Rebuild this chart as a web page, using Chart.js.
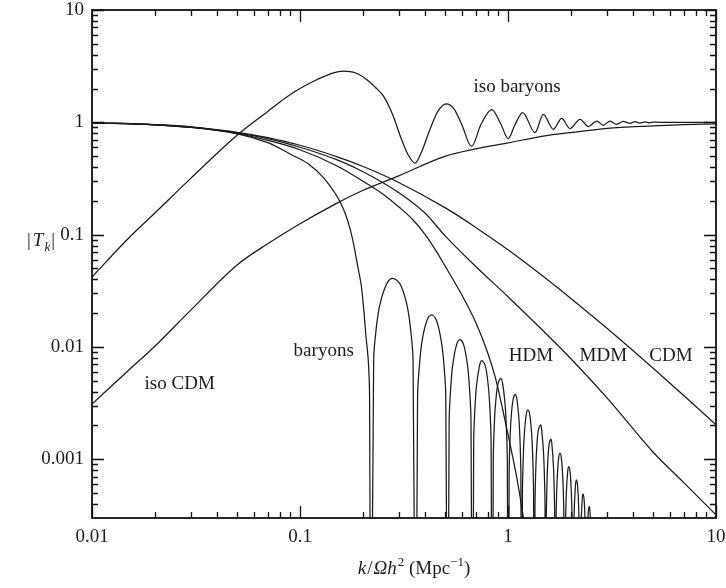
<!DOCTYPE html>
<html><head><meta charset="utf-8">
<script src="https://cdn.jsdelivr.net/npm/chart.js@4.4.1/dist/chart.umd.min.js"></script>
<style>html,body{margin:0;padding:0;background:#fff;}canvas{display:block;}</style>
</head><body>
<canvas id="c" width="726" height="588"></canvas>
<script>
// ---- data (k/Ωh² in Mpc^-1, |T_k|) ----
const cdmK = [0.01,0.02,0.03,0.05,0.07,0.1,0.15,0.2,0.3,0.5,0.7,1,1.5,2,3,5,7,10];
const cdmT = [0.99,0.95,0.905,0.815,0.73,0.625,0.495,0.406,0.29,0.173,0.116,0.0732,0.0415,0.0272,0.0146,0.00644,0.0037,0.00203];

const mdmK = [0.01,0.02,0.03,0.05,0.07,0.1,0.15,0.2,0.3,0.4,0.5,0.7,1,1.5,2,3,5,7,10];
const mdmT = [0.99,0.95,0.9,0.805,0.715,0.6,0.465,0.365,0.235,0.155,0.097,0.052,0.028,0.0135,0.0079,0.0035,0.00115,0.00062,0.00032];

const hdmK = [0.01,0.02,0.03,0.05,0.07,0.1,0.15,0.2,0.25,0.3,0.35,0.4,0.45,0.5,0.6,0.7,0.8,0.87,0.95,1.02,1.1,1.18,1.25];
const hdmT = [0.99,0.95,0.9,0.795,0.69,0.57,0.41,0.3,0.23,0.175,0.135,0.1,0.072,0.052,0.029,0.0165,0.0088,0.0053,0.0026,0.0014,0.0007,0.00032,0.00015];

const baryonK = [0.01,0.02,0.03,0.05,0.07,0.09,0.109,0.13,0.156,0.174,0.19,0.198,0.208,0.213,0.216,0.2195,
  0.226,0.2329,0.2423,0.2609,0.279,0.3027,0.3262,0.3392,0.3495,0.3599,
  0.3675,0.3757,0.3863,0.4075,0.4297,0.4532,0.4775,0.4916,0.5022,0.513,
  0.5212,0.5302,0.5418,0.5647,0.5877,0.6132,0.639,0.6531,0.6639,0.6751,
  0.6839,0.693,0.7051,0.7288,0.7475,0.7784,0.8044,0.8187,0.8294,0.8402,
  0.8494,0.8584,0.8708,0.8941,0.9224,0.943,0.9683,0.9822,0.9927,1.003,
  1.0123,1.0212,1.0335,1.0568,1.085,1.1048,1.1298,1.1434,1.1534,1.164,
  1.1735,1.1836,1.1967,1.2221,1.248,1.2741,1.3011,1.3155,1.3268,1.338,
  1.348,1.3583,1.3721,1.3983,1.436,1.4524,1.4801,1.4952,1.5066,1.518,
  1.5279,1.5375,1.5506,1.5754,1.609,1.6267,1.6527,1.6669,1.6773,1.688,
  1.6986,1.7092,1.7235,1.7507,1.778,1.8064,1.8349,1.8501,1.8617,1.874,
  1.8837,1.8941,1.9081,1.9347,1.955,1.9884,2.0161,2.031,2.0423,2.053,
  2.063,2.0726,2.0855,2.1101,2.13,2.1597,2.1852,2.1988,2.209,2.22,
  2.2284,2.2377,2.2501,2.274,2.292,2.3216,2.3464,2.3594,2.3692,2.379,
  2.3878,2.3972,2.4094,2.4322,2.46,2.4786,2.5021,2.5148,2.5247,2.534];
const baryonT = [0.995,0.955,0.91,0.79,0.66,0.52,0.43,0.32,0.195,0.113,0.051,0.033,0.012,0.0075,0.0037,1e-6,
  0.0076,0.01502,0.02397,0.03636,0.0408,0.03636,0.02397,0.01502,0.0076,1e-6,
  0.00361,0.007109,0.01135,0.01721,0.01931,0.01721,0.01135,0.007109,0.00361,1e-6,
  0.00217,0.004272,0.00682,0.010342,0.0116,0.010342,0.00682,0.004272,0.00217,1e-6,
  0.001415,0.002785,0.004448,0.006742,0.007565,0.006742,0.004448,0.002785,0.001415,1e-6,
  0.00098,0.00193,0.003082,0.004672,0.005242,0.004672,0.003082,0.00193,0.00098,1e-6,
  0.000708,0.001393,0.002225,0.003372,0.003784,0.003372,0.002225,0.001393,0.000708,1e-6,
  0.000515,0.001013,0.001619,0.002454,0.002754,0.002454,0.001619,0.001013,0.000515,1e-6,
  0.000379,0.000747,0.001192,0.001808,0.002028,0.001808,0.001192,0.000747,0.000379,1e-6,
  0.000283,0.000557,0.000889,0.001348,0.001512,0.001348,0.000889,0.000557,0.000283,1e-6,
  0.000213,0.000419,0.000669,0.001013,0.001137,0.001013,0.000669,0.000419,0.000213,1e-6,
  0.000161,0.000317,0.000507,0.000768,0.000862,0.000768,0.000507,0.000317,0.000161,1e-6,
  0.000123,0.000241,0.000386,0.000585,0.000656,0.000585,0.000386,0.000241,0.000123,1e-6,
  0.0000922,0.000182,0.00029,0.000439,0.000493,0.000439,0.00029,0.000182,0.0000922,1e-6,
  0.0000712,0.00014,0.000224,0.00034,0.000381,0.00034,0.000224,0.00014,0.0000712,1e-6];

const isoBaryonK = [0.01,0.0149,0.02,0.03,0.05,0.07,0.085,0.1,0.115,0.13,0.145,0.161,0.185,0.209,0.23,0.252,0.28,0.303,0.33,0.357,0.385,0.42,0.46,
  0.504,0.55,0.6,0.668,0.74,0.835,0.92,1.003,1.08,1.177,1.348,1.478,1.651,1.812,1.986,2.22,2.433,2.67,2.872,3.093,
  3.332,3.584,3.86,4.08,4.31,4.56,4.78,5.0,5.5,7,10];
const isoBaryonT = [0.042,0.092,0.155,0.32,0.77,1.25,1.65,2.0,2.3,2.55,2.75,2.85,2.75,2.41,2.05,1.71,1.15,0.76,0.52,0.434,0.55,0.85,1.25,
  1.46,1.32,0.95,0.61,0.95,1.3,0.98,0.717,0.95,1.218,0.811,1.177,0.867,1.085,0.88,1.063,0.916,1.027,0.941,1.027,
  0.96,1.02,0.98,1.015,0.985,1.01,0.99,1.005,1.0,1.0,1.0];

const isoCdmK = [0.01,0.015,0.02,0.03,0.05,0.07,0.1,0.15,0.2,0.3,0.5,0.7,1,1.5,2,3,5,7,10];
const isoCdmT = [0.0031,0.0062,0.0101,0.0215,0.054,0.083,0.125,0.19,0.247,0.335,0.5,0.58,0.655,0.757,0.81,0.885,0.93,0.955,0.97];

// ---- axes ----
const xTickValues = [0.01,0.1,1,10];
const xTickLabels = ['0.01','0.1','1','10'];
const yTickValues = [0.001,0.01,0.1,1,10];
const yTickLabels = ['0.001','0.01','0.1','1','10'];
const xMinorTicks = [0.02,0.03,0.04,0.05,0.06,0.07,0.08,0.09,0.2,0.3,0.4,0.5,0.6,0.7,0.8,0.9,2,3,4,5,6,7,8,9];
const yMinorTicks = [0.0004,0.0005,0.0006,0.0007,0.0008,0.0009,0.002,0.003,0.004,0.005,0.006,0.007,0.008,0.009,
  0.02,0.03,0.04,0.05,0.06,0.07,0.08,0.09,0.2,0.3,0.4,0.5,0.6,0.7,0.8,0.9,2,3,4,5,6,7,8,9];
const xMin = 0.01, xMax = 10, yMin = 0.000316, yMax = 10;

// ---- curve labels ----
const curveLabels = ['iso baryons','baryons','HDM','MDM','CDM','iso CDM'];
const labelK = [1.105,0.130,1.29,2.872,6.077,0.0264];
const labelT = [1.88,0.00833,0.00752,0.00752,0.00752,0.00425];

// ---- styling ----
const SERIF = '"Liberation Serif","DejaVu Serif",serif';
const INK = '#1b1b28';
const LINE = '#1a1a1a';

const toPts = (ks, ts) => ks.map((k, i) => ({x: k, y: ts[i]}));
const lineStyle = {borderColor: LINE, borderWidth: 1.25, pointRadius: 0, fill: false,
  cubicInterpolationMode: 'monotone'};

const axesPlugin = {
  id: 'axesDecor',
  afterDatasetsDraw(chart) {
    const {ctx, chartArea: a, scales: {x, y}} = chart;
    ctx.save();
    ctx.strokeStyle = '#111';
    ctx.lineWidth = 1.3;
    const xt = (v, len) => {
      const p = Math.round(x.getPixelForValue(v)) + 0.5;
      ctx.beginPath();
      ctx.moveTo(p, a.bottom); ctx.lineTo(p, a.bottom - len);
      ctx.moveTo(p, a.top); ctx.lineTo(p, a.top + len);
      ctx.stroke();
    };
    const yt = (v, len) => {
      const p = Math.round(y.getPixelForValue(v)) + 0.5;
      ctx.beginPath();
      ctx.moveTo(a.left, p); ctx.lineTo(a.left + len, p);
      ctx.moveTo(a.right, p); ctx.lineTo(a.right - len, p);
      ctx.stroke();
    };
    xMinorTicks.forEach(v => xt(v, 6));
    xTickValues.forEach(v => xt(v, 12));
    yMinorTicks.forEach(v => yt(v, 6));
    yTickValues.forEach(v => yt(v, 12));
    ctx.lineWidth = 1.8;
    ctx.strokeRect(a.left, a.top, a.right - a.left, a.bottom - a.top);
    ctx.restore();
  },
  afterDraw(chart) {
    const {ctx, scales: {x, y}} = chart;
    ctx.save();
    ctx.fillStyle = INK;
    ctx.textAlign = 'center';
    ctx.textBaseline = 'alphabetic';
    ctx.font = '19px ' + SERIF;
    curveLabels.forEach((t, i) => ctx.fillText(t, x.getPixelForValue(labelK[i]), y.getPixelForValue(labelT[i])));
    const rich = (parts, cx, base) => {
      ctx.textAlign = 'left';
      let w = 0;
      parts.forEach(p => { ctx.font = p.f; w += ctx.measureText(p.t).width + (p.g || 0); });
      let px = cx - w / 2;
      parts.forEach(p => { ctx.font = p.f; ctx.fillText(p.t, px, base + (p.dy || 0)); px += ctx.measureText(p.t).width + (p.g || 0); });
    };
    const N = '19px ' + SERIF, I = 'italic 19px ' + SERIF, S = '13px ' + SERIF, SI = 'italic 13px ' + SERIF;
    rich([{t:'k', f:I, g:1}, {t:'/', f:N, g:1}, {t:'Ω', f:I}, {t:'h', f:I, g:1}, {t:'2', f:S, dy:-8},
          {t:' (Mpc', f:N}, {t:'−1', f:S, dy:-8}, {t:')', f:N}], 414, 574);
    rich([{t:'|', f:N, g:2}, {t:'T', f:I, g:1}, {t:'k', f:SI, dy:5, g:1}, {t:'|', f:N}], 41, 246);
    ctx.restore();
  }
};

const tickFont = {family: SERIF, size: 19};

new Chart(document.getElementById('c'), {
  type: 'line',
  data: {
    datasets: [
      {label: 'CDM', data: toPts(cdmK, cdmT), ...lineStyle},
      {label: 'MDM', data: toPts(mdmK, mdmT), ...lineStyle},
      {label: 'HDM', data: toPts(hdmK, hdmT), ...lineStyle},
      {label: 'baryons', data: toPts(baryonK, baryonT), ...lineStyle, cubicInterpolationMode: 'default', tension: 0.35},
      {label: 'iso baryons', data: toPts(isoBaryonK, isoBaryonT), ...lineStyle},
      {label: 'iso CDM', data: toPts(isoCdmK, isoCdmT), ...lineStyle}
    ]
  },
  options: {
    responsive: false,
    animation: false,
    devicePixelRatio: 1,
    layout: {padding: {left: 0, right: 10, top: 10, bottom: 0}},
    plugins: {legend: {display: false}, tooltip: {enabled: false}},
    scales: {
      x: {
        type: 'logarithmic', min: xMin, max: xMax,
        grid: {display: false, drawTicks: false},
        border: {display: false},
        afterBuildTicks: s => { s.ticks = xTickValues.map(v => ({value: v})); },
        afterFit: s => { s.height = 70; s.paddingLeft = 0; s.paddingRight = 0; },
        ticks: {autoSkip: false, maxRotation: 0, minRotation: 0, padding: 8, font: tickFont, color: INK,
          callback: (v, i) => xTickLabels[i]}
      },
      y: {
        type: 'logarithmic', min: yMin, max: yMax,
        grid: {display: false, drawTicks: false},
        border: {display: false},
        afterBuildTicks: s => { s.ticks = yTickValues.map(v => ({value: v})); },
        afterFit: s => { s.width = 92; s.paddingTop = 0; s.paddingBottom = 0; },
        ticks: {autoSkip: false, padding: 8, font: tickFont, color: INK,
          callback: (v, i) => yTickLabels[i]}
      }
    }
  },
  plugins: [axesPlugin]
});
</script>
</body></html>
